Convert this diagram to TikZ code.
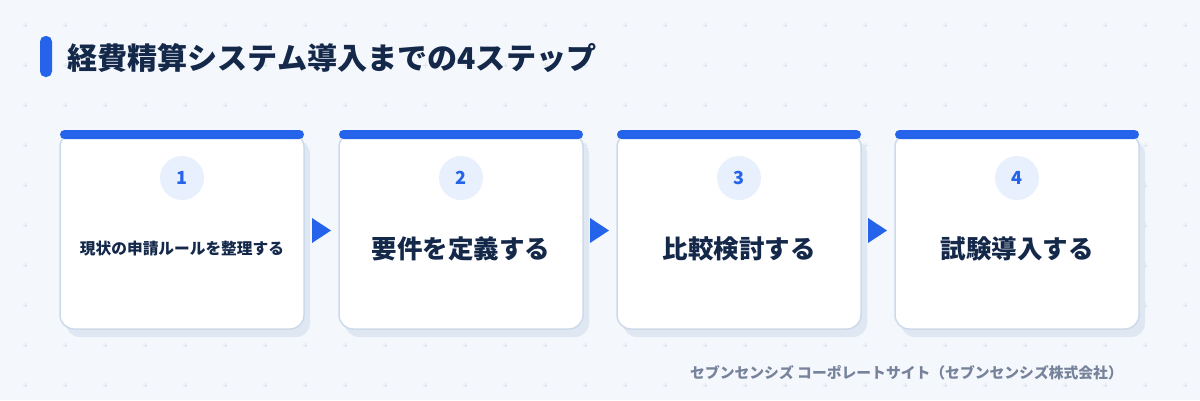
\documentclass[tikz,border=0pt]{standalone}
\usepackage{fontspec}
\setmainfont{Noto Sans CJK JP}
\definecolor{bg}{HTML}{F4F7FC}
\definecolor{gridc}{HTML}{DFE6F0}
\definecolor{blueA}{HTML}{2563EB}
\definecolor{navy}{HTML}{14284A}
\definecolor{cardline}{HTML}{CDDAEA}
\definecolor{shadowc}{HTML}{DFE7F2}
\definecolor{circ}{HTML}{E8F0FD}
\definecolor{foot}{HTML}{76839A}
\begin{document}
\begin{tikzpicture}[x=1pt,y=-1pt,
  cardbox/.style={fill=white,draw=cardline,line width=1.5pt,rounded corners=14pt},
  shadowbox/.style={fill=shadowc,rounded corners=14pt},
  topbar/.style={fill=blueA,rounded corners=4.5pt},
  numcirc/.style={circle,fill=circ,minimum size=44pt,inner sep=0pt,text=blueA,font=\bfseries\fontsize{18}{18}\selectfont},
  smalltxt/.style={text=navy,font=\bfseries\fontsize{15.7}{18}\selectfont},
  bigtxt/.style={text=navy,font=\bfseries\fontsize{25.5}{30}\selectfont},
  flowarrow/.style={fill=blueA}]
\fill[bg] (0,0) rectangle (1200,400);
\useasboundingbox (0,0) rectangle (1200,400);
% grid of plus marks
\foreach \i in {0,...,29}{
  \foreach \j in {0,...,9}{
    \draw[gridc,line width=0.9pt] ({25+40*\i-2.5},{25+40*\j}) -- ({25+40*\i+2.5},{25+40*\j})
      ({25+40*\i},{25+40*\j-2.5}) -- ({25+40*\i},{25+40*\j+2.5});
  }
}
% title
\fill[blueA,rounded corners=5.5pt] (40,36) rectangle (52,77);
\node[anchor=west,inner sep=0pt,text=navy,font=\bfseries\fontsize{30.1}{32}\selectfont] (title) at (67,58) {経費精算システム導入までの4ステップ};
% cards
\foreach \n/\x in {1/60,2/339,3/617,4/895}{
  \fill[shadowbox] ({\x+6},{140}) rectangle ({\x+244+6},{329+8});
  \draw[cardbox] (\x,133) rectangle ({\x+244},329);
  \fill[topbar] (\x,130) rectangle ({\x+244},139);
  \node[numcirc] (n\n) at ({\x+122},178) {\n};
}
\node[smalltxt] (t1) at (182,249) {現状の申請ルールを整理する};
\node[bigtxt] (t2) at (461,249) {要件を定義する};
\node[bigtxt] (t3) at (739,249) {比較検討する};
\node[bigtxt] (t4) at (1017,249) {試験導入する};
% arrows between cards
\foreach \x in {312,590,868}{
  \fill[flowarrow] (\x,218) -- (\x,243) -- ({\x+19},230.5) -- cycle;
}
% footer
\node[anchor=east,inner sep=0pt,text=foot,font=\bfseries\fontsize{14.8}{16}\selectfont] (footer) at (1123,373) {セブンセンシズ コーポレートサイト（セブンセンシズ株式会社）};
\end{tikzpicture}
\end{document}
